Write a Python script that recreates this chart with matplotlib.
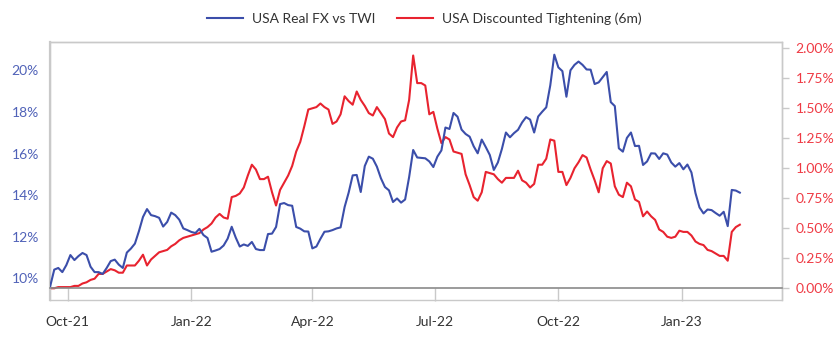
import matplotlib
matplotlib.use("Agg")
import matplotlib.pyplot as plt
import matplotlib.ticker as mticker
import pandas as pd

plt.rcParams["font.family"] = ["Lato", "DejaVu Sans"]

# Observation dates (every third day)
dates = pd.date_range("2021-09-18", periods=172, freq="3D")

# USA real FX vs trade-weighted index, in percent
real_fx = [
    9.63, 10.42, 10.50, 10.30, 10.64, 11.12, 10.88, 11.07, 11.22, 11.12,
    10.56, 10.30, 10.30, 10.21, 10.50, 10.83, 10.90, 10.66, 10.50, 11.24,
    11.43, 11.67, 12.27, 12.95, 13.33, 13.04, 12.99, 12.91, 12.49, 12.71,
    13.16, 13.04, 12.82, 12.40, 12.32, 12.23, 12.18, 12.38, 12.08, 11.94,
    11.28, 11.34, 11.41, 11.58, 11.91, 12.48, 11.96, 11.53, 11.63, 11.56,
    11.75, 11.41, 11.36, 11.36, 12.13, 12.15, 12.47, 13.57, 13.62, 13.52,
    13.49, 12.47, 12.39, 12.26, 12.25, 11.44, 11.53, 11.90, 12.24, 12.26,
    12.32, 12.40, 12.45, 13.43, 14.12, 14.95, 14.97, 14.15, 15.40, 15.85,
    15.75, 15.37, 14.81, 14.39, 14.23, 13.67, 13.84, 13.64, 13.79, 14.87,
    16.17, 15.81, 15.79, 15.77, 15.62, 15.35, 15.85, 16.15, 17.25, 17.18,
    17.95, 17.77, 17.15, 16.94, 16.81, 16.35, 16.01, 16.67, 16.31, 15.93,
    15.21, 15.57, 16.22, 17.01, 16.78, 16.98, 17.14, 17.49, 17.75, 17.63,
    17.01, 17.78, 18.01, 18.22, 19.28, 20.75, 20.14, 19.96, 18.73, 20.00,
    20.26, 20.42, 20.26, 20.04, 20.03, 19.34, 19.42, 19.67, 19.92, 18.47,
    18.28, 16.25, 16.09, 16.75, 17.01, 16.36, 16.37, 15.45, 15.62, 16.01,
    16.00, 15.74, 16.01, 15.95, 15.57, 15.37, 15.54, 15.24, 15.47, 15.09,
    14.10, 13.41, 13.12, 13.31, 13.28, 13.14, 13.01, 13.20, 12.51, 14.25,
    14.22, 14.12,
]

# Discounted tightening over the next six months, in percent
tightening = [
    0.00, 0.00, 0.01, 0.01, 0.01, 0.01, 0.02, 0.02, 0.04, 0.05,
    0.07, 0.08, 0.12, 0.12, 0.14, 0.16, 0.15, 0.13, 0.13, 0.19,
    0.19, 0.19, 0.23, 0.28, 0.19, 0.24, 0.27, 0.30, 0.31, 0.32,
    0.35, 0.37, 0.40, 0.42, 0.43, 0.44, 0.45, 0.46, 0.49, 0.51,
    0.54, 0.59, 0.62, 0.59, 0.58, 0.76, 0.77, 0.79, 0.84, 0.94,
    1.03, 0.99, 0.91, 0.91, 0.93, 0.80, 0.69, 0.82, 0.88, 0.94,
    1.02, 1.14, 1.22, 1.35, 1.49, 1.50, 1.51, 1.54, 1.51, 1.49,
    1.37, 1.39, 1.45, 1.60, 1.56, 1.53, 1.64, 1.57, 1.52, 1.46,
    1.44, 1.51, 1.46, 1.41, 1.29, 1.26, 1.34, 1.39, 1.40, 1.57,
    1.94, 1.71, 1.71, 1.69, 1.45, 1.47, 1.33, 1.21, 1.26, 1.24,
    1.14, 1.13, 1.12, 0.95, 0.86, 0.76, 0.73, 0.80, 0.97, 0.96,
    0.95, 0.91, 0.88, 0.92, 0.92, 0.92, 0.98, 0.90, 0.88, 0.84,
    0.87, 1.03, 1.03, 1.08, 1.24, 1.23, 0.97, 0.97, 0.86, 0.92,
    1.00, 1.05, 1.11, 1.09, 0.99, 0.90, 0.80, 1.00, 1.06, 1.04,
    0.85, 0.78, 0.76, 0.88, 0.85, 0.74, 0.72, 0.60, 0.64, 0.60,
    0.57, 0.49, 0.47, 0.43, 0.42, 0.43, 0.48, 0.47, 0.47, 0.44,
    0.39, 0.37, 0.36, 0.32, 0.31, 0.29, 0.27, 0.27, 0.23, 0.47,
    0.51, 0.53,
]

series_names = ["USA Real FX vs TWI", "USA Discounted Tightening (6m)"]
x_tick_dates = pd.to_datetime(["2021-10-01", "2022-01-01", "2022-04-01",
                               "2022-07-01", "2022-10-01", "2023-01-01"])
x_tick_labels = ["Oct-21", "Jan-22", "Apr-22", "Jul-22", "Oct-22", "Jan-23"]
left_ticks = [10, 12, 14, 16, 18, 20]
right_ticks = [0.0, 0.25, 0.5, 0.75, 1.0, 1.25, 1.5, 1.75, 2.0]

BLUE = "#3b4eaa"
RED = "#e8232f"
BLUE_TXT = "#5062b8"
RED_TXT = "#ef3a44"
FRAME = "#c9c9c9"
AXLINE = "#8a8a8a"

fig = plt.figure(figsize=(8.4, 3.39), dpi=100)
ax = fig.add_axes([50 / 840, 39 / 339, 731.5 / 840, 258 / 339])
ax2 = ax.twinx()

l1, = ax.plot(dates, real_fx, color=BLUE, lw=1.5, zorder=3)
l2, = ax2.plot(dates, tightening, color=RED, lw=1.5, zorder=3)

ax.set_xlim(pd.Timestamp("2021-09-17 20:00"), pd.Timestamp("2023-03-16"))
ax.set_ylim(8.96, 21.36)
r_lo, r_hi = -0.0975, 2.0525
ax2.set_ylim(r_lo, r_hi)

# Frame
for a in (ax, ax2):
    for s in a.spines.values():
        s.set_color(FRAME)
        s.set_linewidth(1.0)
ax.spines["left"].set_linewidth(1.6)

# x axis runs along the zero line of the right scale
ax.spines["bottom"].set_position(("axes", -r_lo / (r_hi - r_lo)))
ax.spines["bottom"].set_color(AXLINE)
ax.spines["bottom"].set_linewidth(1.2)
ax.set_xticks(x_tick_dates)
ax.set_xticklabels(x_tick_labels)
ax.tick_params(axis="x", direction="out", length=9, width=1.0, color=FRAME,
               pad=11, labelsize=10, labelcolor="#333333")

ax.set_yticks(left_ticks)
ax.yaxis.set_major_formatter(mticker.FuncFormatter(lambda v, p: f"{v:.0f}%"))
ax.tick_params(axis="y", length=0, pad=8, labelsize=10, labelcolor=BLUE_TXT)

ax2.set_yticks(right_ticks)
ax2.yaxis.set_major_formatter(mticker.FuncFormatter(lambda v, p: f"{v:.2f}%"))
ax2.tick_params(axis="y", direction="out", length=5, width=1.0, color=FRAME,
                pad=5, labelsize=10, labelcolor=RED_TXT)

ax.set_zorder(ax2.get_zorder() + 1)
ax.patch.set_visible(False)

fig.legend([l1, l2], series_names, loc="center", bbox_to_anchor=(0.505, 0.944),
           ncol=2, frameon=False, fontsize=10, handlelength=2.6,
           columnspacing=1.6, handletextpad=0.6, labelcolor="#333333")

fig.savefig("out.png", dpi=100)
